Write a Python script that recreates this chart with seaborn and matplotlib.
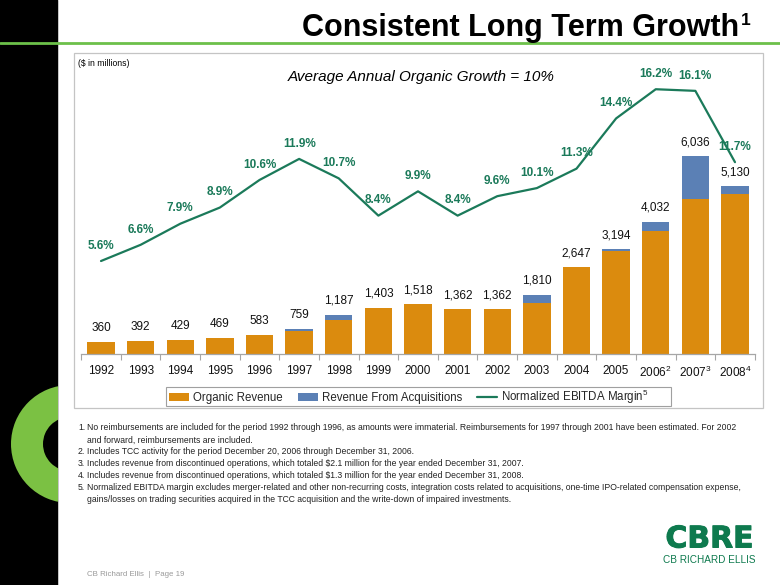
import numpy as np
import pandas as pd
import matplotlib
matplotlib.use("Agg")
import matplotlib.pyplot as plt
import matplotlib.patheffects as pe
import seaborn as sns
from matplotlib.patches import Rectangle, Wedge, Patch
from matplotlib.lines import Line2D
import matplotlib.font_manager as fm

# ---------------- data ----------------
years = ["1992", "1993", "1994", "1995", "1996", "1997", "1998", "1999", "2000",
         "2001", "2002", "2003", "2004", "2005", "2006", "2007", "2008"]
year_notes = ["", "", "", "", "", "", "", "", "", "", "", "", "", "", "2", "3", "4"]
total_revenue = [360, 392, 429, 469, 583, 759, 1187, 1403, 1518, 1362, 1362, 1810,
                 2647, 3194, 4032, 6036, 5130]
acquisition_revenue = [0, 0, 0, 0, 0, 50, 170, 0, 0, 0, 0, 263, 0, 50, 284, 1315, 245]
ebitda_margin = [5.6, 6.6, 7.9, 8.9, 10.6, 11.9, 10.7, 8.4, 9.9, 8.4, 9.6, 10.1,
                 11.3, 14.4, 16.2, 16.1, 11.7]
organic_revenue = [t - a for t, a in zip(total_revenue, acquisition_revenue)]

footnotes = [
    ("1.", "No reimbursements are included for the period 1992 through 1996, as amounts were immaterial. Reimbursements for 1997 through 2001 have been estimated. For 2002"),
    ("", "and forward, reimbursements are included."),
    ("2.", "Includes TCC activity for the period December 20, 2006 through December 31, 2006."),
    ("3.", r"Includes revenue from discontinued operations, which totaled \$2.1 million for the year ended December 31, 2007."),
    ("4.", r"Includes revenue from discontinued operations, which totaled \$1.3 million for the year ended December 31, 2008."),
    ("5.", "Normalized EBITDA margin excludes merger-related and other non-recurring costs, integration costs related to acquisitions, one-time IPO-related compensation expense,"),
    ("", "gains/losses on trading securities acquired in the TCC acquisition and the write-down of impaired investments."),
]

# ---------------- style ----------------
sns.set_theme(style="white")
plt.rcParams["font.family"] = ["Liberation Sans", "DejaVu Sans"]
plt.rcParams["mathtext.default"] = "regular"

names = {f.name for f in fm.fontManager.ttflist}
narrow = "Liberation Sans Narrow" if "Liberation Sans Narrow" in names else "Liberation Sans"

ORANGE = "#DB8B0E"
BLUE = "#5B80B5"
GREEN = "#1B7A5A"
BRIGHT = "#7BC143"
LOGO = "#0E7A4E"

W, H = 780, 585
fig = plt.figure(figsize=(W / 100, H / 100), dpi=100)

# background / decoration axes in pixel coordinates
bg = fig.add_axes([0, 0, 1, 1], zorder=0)
bg.set_xlim(0, W)
bg.set_ylim(H, 0)
bg.axis("off")
bg.add_patch(Rectangle((0, 0), 58, H, facecolor="black", edgecolor="none"))
bg.add_patch(Wedge((70, 444), 59, 0, 360, width=32, facecolor=BRIGHT, edgecolor="none"))
bg.add_patch(Rectangle((58, 0), W - 58, H, facecolor="white", edgecolor="none"))
bg.plot([58, 58], [0, H], color="#BBBBBB", lw=0.6)
bg.plot([0, W], [43, 43], color="#6CC04A", lw=2)
bg.add_patch(Rectangle((74, 53), 689, 355, facecolor="none", edgecolor="#C4C4C4", lw=0.9))
bg.add_patch(Rectangle((166, 387), 505, 18.5, facecolor="white", edgecolor="#A0A0A0", lw=0.8, zorder=3))

bg.text(739, 36, "Consistent Long Term Growth", ha="right", va="baseline",
        fontsize=22, fontweight="bold", color="black")
bg.text(741, 13, "1", ha="left", va="top", fontsize=12.5, fontweight="bold", color="black")
bg.text(78, 63, r"(\$ in millions)", ha="left", va="center", fontsize=6.2, color="black")
bg.text(421, 77, "Average Annual Organic Growth = 10%", ha="center", va="center",
        fontsize=11, style="italic", color="black")

foot_texts = []
for k, (num, txt) in enumerate(footnotes):
    y = 428 + 12 * k
    if num:
        foot_texts.append(bg.text(78, y, num, ha="left", va="center", fontsize=6,
                                  family=narrow, color="#222222"))
    foot_texts.append(bg.text(87, y, txt, ha="left", va="center", fontsize=6,
                              family=narrow, color="#222222"))
footer = bg.text(87, 575, "CB Richard Ellis  |  Page 19", ha="left", va="center",
                 fontsize=5.5, family=narrow, color="#9A9A9A")

# fit the footnote width to the reference (first line ends near x=740)
fig.canvas.draw()
r = fig.canvas.get_renderer()
w1 = foot_texts[1].get_window_extent(r).width
scale = (740 - 87) / w1
for t in foot_texts:
    t.set_fontsize(6 * scale)
footer.set_fontsize(5.5 * scale)

bg.text(709.5, 539, "CBRE", ha="center", va="center", fontsize=21.5, fontweight="bold",
        family="DejaVu Sans", color=LOGO,
        path_effects=[pe.withStroke(linewidth=0.7, foreground=LOGO)])
bg.text(709.5, 560, "CB RICHARD ELLIS", ha="center", va="center", fontsize=7.2,
        color=LOGO)

# ---------------- chart ----------------
df = pd.DataFrame({"year": years, "total": total_revenue, "organic": organic_revenue})

ax = fig.add_axes([81.2 / W, 1 - 353.7 / H, (754.8 - 81.2) / W, (353.7 - 80) / H], zorder=2)
ax.patch.set_alpha(0)
sns.barplot(data=df, x="year", y="total", color=BLUE, saturation=1, width=0.69,
            linewidth=0, ax=ax)
sns.barplot(data=df, x="year", y="organic", color=ORANGE, saturation=1, width=0.69,
            linewidth=0, ax=ax)
ax.set_ylim(0, 8370)
ax.set_xlim(-0.5, len(years) - 0.5)
ax.set_xlabel("")
ax.set_ylabel("")
ax.set_yticks([])
for s in ["top", "left", "right"]:
    ax.spines[s].set_visible(False)
ax.spines["bottom"].set_color("#A6A6A6")
ax.spines["bottom"].set_linewidth(0.9)

labels = [y + (r"$^{%s}$" % n if n else "") for y, n in zip(years, year_notes)]
ax.set_xticks(range(len(years)))
ax.set_xticklabels(labels, fontsize=8.5, color="#111111")
ax.set_xticks(np.arange(-0.5, len(years), 1), minor=True)
ax.tick_params(axis="x", which="major", length=0, pad=8)
ax.tick_params(axis="x", which="minor", length=4, width=0.8, color="#A6A6A6", bottom=True)

for i, t in enumerate(total_revenue):
    ax.annotate(f"{t:,}", (i, t), xytext=(0, 10), textcoords="offset points",
                ha="center", va="center", fontsize=8.5, color="#111111")

ax2 = ax.twinx()
ax2.set_position(ax.get_position())
sns.lineplot(x=np.arange(len(years)), y=ebitda_margin, ax=ax2, color=GREEN, linewidth=1.6)
ax2.set_ylim(-0.12, 16.77)
ax2.set_xlim(-0.5, len(years) - 0.5)
ax2.set_yticks([])
ax2.set_ylabel("")
for s in ax2.spines.values():
    s.set_visible(False)
for i, v in enumerate(ebitda_margin):
    ax2.annotate(f"{v:.1f}%", (i, v), xytext=(0, 11), textcoords="offset points",
                 ha="center", va="center", fontsize=8.5, fontweight="bold", color=GREEN)

handles = [Patch(facecolor=ORANGE, edgecolor="none"),
           Patch(facecolor=BLUE, edgecolor="none"),
           Line2D([0], [0], color=GREEN, lw=1.6)]
leg = fig.legend(handles, ["Organic Revenue", "Revenue From Acquisitions",
                           "Normalized EBITDA Margin$^{5}$"],
                 loc="center left", bbox_to_anchor=(169 / W, 1 - 396.5 / H), ncol=3,
                 frameon=False, fontsize=8.3, handlelength=1.75,
                 handleheight=0.7, handletextpad=0.35, columnspacing=1.3, borderpad=0,
                 borderaxespad=0)
leg.set_zorder(5)

fig.savefig("out.png", dpi=100)
